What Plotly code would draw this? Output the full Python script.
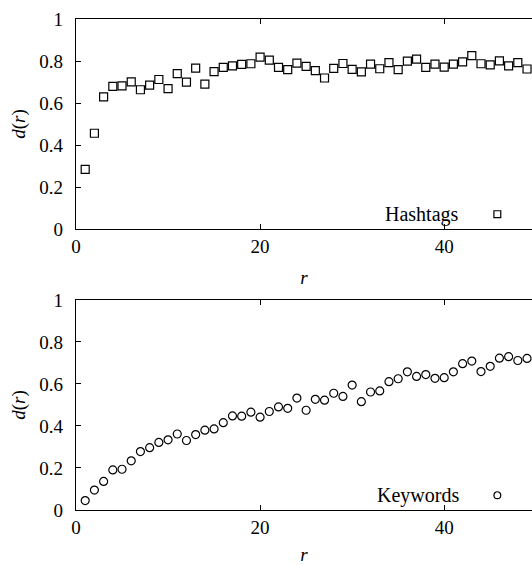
import plotly.graph_objects as go

r = list(range(1, 50))
hashtags = [0.284, 0.456, 0.629, 0.679, 0.682, 0.701, 0.663, 0.685, 0.712, 0.668,
            0.740, 0.699, 0.766, 0.690, 0.749, 0.770, 0.777, 0.784, 0.787, 0.818,
            0.804, 0.770, 0.759, 0.790, 0.774, 0.754, 0.719, 0.765, 0.788, 0.760,
            0.748, 0.785, 0.763, 0.792, 0.759, 0.799, 0.809, 0.770, 0.785, 0.771,
            0.785, 0.796, 0.826, 0.787, 0.782, 0.801, 0.777, 0.792, 0.762]
keywords = [0.045, 0.095, 0.136, 0.191, 0.194, 0.234, 0.278, 0.297, 0.322, 0.334,
            0.362, 0.331, 0.359, 0.380, 0.386, 0.416, 0.448, 0.447, 0.466, 0.442,
            0.469, 0.491, 0.484, 0.533, 0.475, 0.527, 0.523, 0.556, 0.541, 0.595,
            0.516, 0.562, 0.567, 0.611, 0.625, 0.658, 0.636, 0.645, 0.627, 0.630,
            0.658, 0.697, 0.709, 0.659, 0.684, 0.723, 0.730, 0.712, 0.722]
x_ticks = [0, 20, 40]
y_ticks = [0, 0.2, 0.4, 0.6, 0.8, 1]
y_ticktext = ["0", "0.2", "0.4", "0.6", "0.8", "1"]
series_names = ["Hashtags", "Keywords"]

FONT = "Liberation Serif, Times New Roman, serif"
FS = 19

fig = go.Figure()
fig.add_trace(go.Scatter(x=r, y=hashtags, mode="markers", xaxis="x", yaxis="y",
                         marker=dict(symbol="square-open", size=8, color="black",
                                     line=dict(width=1.2, color="black")),
                         showlegend=False))
fig.add_trace(go.Scatter(x=r, y=keywords, mode="markers", xaxis="x2", yaxis="y2",
                         marker=dict(symbol="circle-open", size=8, color="black",
                                     line=dict(width=1.2, color="black")),
                         showlegend=False))

tickfont = dict(family=FONT, size=FS, color="black")
ax_common = dict(showline=True, linecolor="black", linewidth=1.3,
                 ticks="inside", ticklen=5, tickwidth=1, tickcolor="black",
                 showgrid=False, zeroline=False, tickfont=tickfont)

xcommon = dict(ax_common, mirror="ticks", range=[0, 49.54], tickvals=x_ticks,
               title=dict(text="<i>r</i>", font=tickfont, standoff=14))
ycommon = dict(ax_common, mirror=False, range=[0, 1], tickvals=y_ticks, ticktext=y_ticktext,
               ticklabelstandoff=8,
               title=dict(text="<i>d</i>(<i>r</i>)", font=tickfont, standoff=8))
yright = dict(side="right", range=[0, 1], tickvals=y_ticks,
              ticks="inside", ticklen=5, tickwidth=1, tickcolor="black",
              showticklabels=False, showline=False, showgrid=False, zeroline=False)

top_dom = [0.5723, 1.0]
bot_dom = [0.0, 0.4277]

fig.update_layout(
    width=532, height=565,
    margin=dict(l=76, r=0, t=19, b=48),
    plot_bgcolor="white", paper_bgcolor="white",
    xaxis=dict(xcommon, domain=[0, 1], anchor="y"),
    yaxis=dict(ycommon, domain=top_dom, anchor="x"),
    xaxis2=dict(xcommon, domain=[0, 1], anchor="y2"),
    yaxis2=dict(ycommon, domain=bot_dom, anchor="x2"),
    yaxis3=dict(yright, overlaying="y", anchor="x", domain=top_dom),
    yaxis4=dict(yright, overlaying="y2", anchor="x2", domain=bot_dom),
    font=dict(family=FONT, size=FS, color="black"),
)

# legend labels (text left, key symbol right, as in the reference)
for name, yref, sym in [(series_names[0], "y", "rect"), (series_names[1], "y2", "circle")]:
    fig.add_annotation(text=name, xref="x domain", yref=yref + " domain",
                       x=0.845, y=0.068, xanchor="right", yanchor="middle",
                       showarrow=False, font=dict(family=FONT, size=FS + 1, color="black"))
    fig.add_shape(type=sym, xref="x domain", yref=yref + " domain",
                  x0=0.9165, x1=0.9315, y0=0.054, y1=0.087,
                  line=dict(color="black", width=1.2))

fig.write_html("out.html")
